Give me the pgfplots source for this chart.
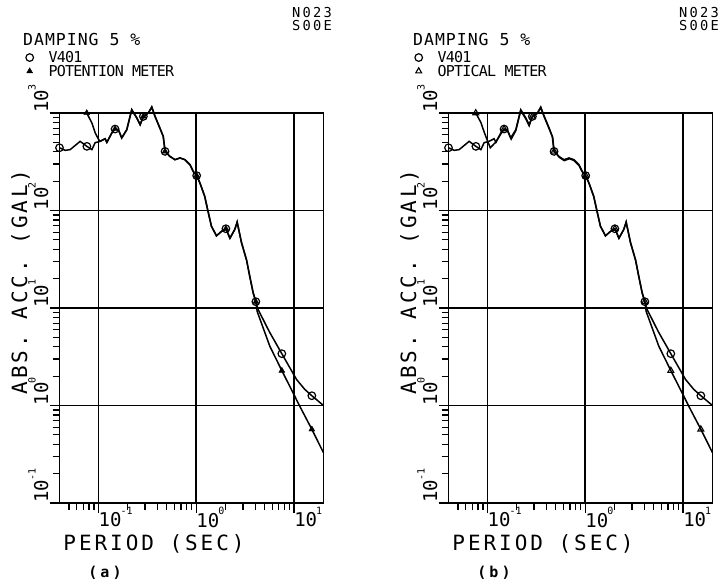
\documentclass[border=0pt]{standalone}
\usepackage{fontspec}
\usepackage{pgfplots}
\usepackage{pgfplotstable}
\pgfplotsset{compat=1.18}

\newfontfamily\plotfont{DejaVu Sans Mono}
\newfontfamily\plotwide[LetterSpace=14]{DejaVu Sans Mono}
\newfontfamily\plotmid[LetterSpace=6]{DejaVu Sans Mono}
\newfontfamily\plotnarrow[LetterSpace=-5]{DejaVu Sans Mono}
\newfontfamily\plotid[LetterSpace=16]{DejaVu Sans Mono}
\newfontfamily\plotcap[LetterSpace=20]{DejaVu Sans Mono}
% small raised exponent, like the plotter's 10^n labels
\newcommand\ex[1]{\kern-1pt\raisebox{12.5pt}{\fontsize{10}{10}\selectfont#1}}

% V401 spectrum (same record in both panels)
\pgfplotstableread{
x y
0.040 440
0.0457 414
0.0514 421
0.065 512
0.0762 455
0.0857 421
0.0925 496
0.104 512
0.117 545
0.122 500
0.137 624
0.148 685
0.160 674
0.173 555
0.195 674
0.219 1081
0.247 889
0.267 759
0.288 923
0.324 1000
0.351 1152
0.379 923
0.425 701
0.460 575
0.480 404
0.538 359
0.606 332
0.682 346
0.767 332
0.863 295
0.931 252
1.01 228
1.09 192
1.22 140
1.32 98
1.43 69
1.61 55
1.81 61
2.01 65
2.21 52
2.48 64
2.62 76
2.90 47
3.27 31
3.53 21
3.82 14.3
4.07 11.6
4.29 9.66
5.58 5.73
7.50 3.40
10.6 1.85
12.9 1.46
15.2 1.26
20.0 1.00
}\vfour

\pgfplotstableread{
x y
0.040 440
0.0762 455
0.148 685
0.288 923
0.480 404
1.01 228
2.01 65
4.07 11.6
7.50 3.40
15.2 1.26
}\vfourmk

% potention meter, panel (a)
\pgfplotstableread{
x y
0.076 1000
0.0857 791
0.0925 628
0.100 540
0.104 512
0.117 545
0.122 500
0.137 624
0.148 685
0.160 674
0.173 555
0.195 674
0.219 1081
0.247 889
0.267 759
0.288 923
0.324 1000
0.351 1152
0.379 923
0.425 701
0.460 575
0.480 404
0.538 359
0.606 332
0.682 346
0.767 332
0.863 295
0.931 252
1.01 228
1.09 192
1.22 140
1.32 98
1.43 69
1.61 55
1.81 61
2.01 65
2.21 52
2.48 64
2.62 76
2.90 47
3.27 31
3.53 21
3.82 14.3
4.07 11.6
4.20 9.2
5.65 4.06
7.50 2.28
9.77 1.35
11.4 0.99
15.2 0.57
20.0 0.328
}\pot

% optical meter, panel (b)
\pgfplotstableread{
x y
0.076 1000
0.0857 800
0.0925 640
0.100 520
0.107 440
0.114 470
0.122 505
0.137 610
0.148 685
0.160 660
0.175 540
0.195 660
0.219 1060
0.247 870
0.267 740
0.288 923
0.324 990
0.351 1130
0.385 900
0.430 690
0.465 560
0.480 404
0.500 390
0.545 350
0.610 325
0.690 340
0.770 325
0.863 290
0.931 250
1.01 228
1.09 192
1.22 140
1.32 98
1.43 69
1.61 55
1.81 61
2.01 65
2.21 52
2.48 64
2.62 76
2.90 47
3.27 31
3.53 21
3.82 14.3
4.07 11.6
4.20 9.2
5.65 4.06
7.50 2.28
9.77 1.35
11.4 0.99
15.2 0.57
20.0 0.328
}\opt

\pgfplotstableread{
x y
0.076 1000
0.148 685
0.288 923
0.480 404
1.01 228
2.01 65
4.07 11.6
7.50 2.28
15.2 0.57
}\trimk

\begin{document}
\begin{tikzpicture}
\path[use as bounding box] (0pt,0pt) rectangle (719pt,581pt);

% panel (a)
\begin{axis}[
    at={(59.5pt,78pt)}, anchor=south west,
    xmode=log, ymode=log,
    scale only axis, width=264pt, height=390pt,
    xmin=0.04, xmax=20, ymin=0.1, ymax=1000,
    clip=false,
    axis line style={line width=1.6pt},
    xmajorgrids, ymajorgrids,
    major grid style={line width=1.7pt, black},
    xtick={0.1,1,10},
    xticklabels={10\ex{-1},10\ex{0},10\ex{1}},
    ytick={0.1,1,10,100,1000},
    yticklabels={10\ex{-1},10\ex{0},10\ex{1},10\ex{2},10\ex{3}},
    minor xtick={0.05,0.06,0.07,0.08,0.09,0.2,0.3,0.4,0.5,0.6,0.7,0.8,0.9,2,3,4,5,6,7,8,9},
    minor ytick={0.2,0.3,0.4,0.5,0.6,0.7,0.8,0.9,2,3,4,5,6,7,8,9,20,30,40,50,60,70,80,90,200,300,400,500,600,700,800,900},
    xtick pos=bottom, ytick pos=left,
    tick align=outside,
    major tick length=10pt, minor tick length=7pt,
    tick style={black, line width=1.2pt},
    tick label style={font=\plotfont\fontsize{19}{19}\selectfont, inner sep=0pt},
    xticklabel style={anchor=north west, yshift=6pt},
    yticklabel style={xshift=-1pt, rotate=90, anchor=south west},
    label style={font=\plotwide\fontsize{21}{21}\selectfont},
    xlabel={PERIOD (SEC)},
    ylabel={ABS. ACC. (GAL)},
    xlabel style={at={(axis description cs:0.358,-0.105)}, anchor=center},
    ylabel style={at={(axis description cs:-0.148,0.567)}, anchor=center},
    legend style={at={(axis description cs:-0.128,1.164)}, anchor=north west,
      draw=none, fill=none, inner sep=0pt, row sep=-3pt,
      font=\plotnarrow\fontsize{15}{15}\selectfont,
      /tikz/every odd column/.append style={column sep=13pt}},
    legend cell align=left,
]
\addplot[black, line width=1.5pt, mark=none, forget plot] table {\vfour};
\addplot[black, line width=1.5pt, mark=none, forget plot] table {\pot};
\addplot[only marks, mark=o, mark size=3.8pt, line width=1.2pt, black] table {\vfourmk};
\addlegendentry{V401}
\addplot[only marks, mark=triangle*, mark size=3.4pt, black] table {\trimk};
\addlegendentry{POTENTION METER}
\end{axis}

% panel (b)
\begin{axis}[
    at={(448.5pt,78pt)}, anchor=south west,
    xmode=log, ymode=log,
    scale only axis, width=264pt, height=390pt,
    xmin=0.04, xmax=20, ymin=0.1, ymax=1000,
    clip=false,
    axis line style={line width=1.6pt},
    xmajorgrids, ymajorgrids,
    major grid style={line width=1.7pt, black},
    xtick={0.1,1,10},
    xticklabels={10\ex{-1},10\ex{0},10\ex{1}},
    ytick={0.1,1,10,100,1000},
    yticklabels={10\ex{-1},10\ex{0},10\ex{1},10\ex{2},10\ex{3}},
    minor xtick={0.05,0.06,0.07,0.08,0.09,0.2,0.3,0.4,0.5,0.6,0.7,0.8,0.9,2,3,4,5,6,7,8,9},
    minor ytick={0.2,0.3,0.4,0.5,0.6,0.7,0.8,0.9,2,3,4,5,6,7,8,9,20,30,40,50,60,70,80,90,200,300,400,500,600,700,800,900},
    xtick pos=bottom, ytick pos=left,
    tick align=outside,
    major tick length=10pt, minor tick length=7pt,
    tick style={black, line width=1.2pt},
    tick label style={font=\plotfont\fontsize{19}{19}\selectfont, inner sep=0pt},
    xticklabel style={anchor=north west, yshift=6pt},
    yticklabel style={xshift=-1pt, rotate=90, anchor=south west},
    label style={font=\plotwide\fontsize{21}{21}\selectfont},
    xlabel={PERIOD (SEC)},
    ylabel={ABS. ACC. (GAL)},
    xlabel style={at={(axis description cs:0.358,-0.105)}, anchor=center},
    ylabel style={at={(axis description cs:-0.148,0.567)}, anchor=center},
    legend style={at={(axis description cs:-0.128,1.164)}, anchor=north west,
      draw=none, fill=none, inner sep=0pt, row sep=-3pt,
      font=\plotnarrow\fontsize{15}{15}\selectfont,
      /tikz/every odd column/.append style={column sep=13pt}},
    legend cell align=left,
]
\addplot[black, line width=1.5pt, mark=none, forget plot] table {\vfour};
\addplot[black, line width=1.5pt, mark=none, forget plot] table {\opt};
\addplot[only marks, mark=o, mark size=3.8pt, line width=1.2pt, black] table {\vfourmk};
\addlegendentry{V401}
\addplot[only marks, mark=triangle, mark size=3.4pt, line width=1.1pt, black] table {\trimk};
\addlegendentry{OPTICAL METER}
\end{axis}

\node[anchor=west, inner sep=0pt, font=\plotmid\fontsize{16.5}{16.5}\selectfont] at (23pt,542pt) {DAMPING 5 \%};
\node[anchor=west, inner sep=0pt, font=\plotmid\fontsize{16.5}{16.5}\selectfont] at (413pt,542pt) {DAMPING 5 \%};
\node[anchor=east, inner sep=0pt, font=\plotid\fontsize{13.7}{13.7}\selectfont] at (332pt,568pt) {N023};
\node[anchor=east, inner sep=0pt, font=\plotid\fontsize{13.7}{13.7}\selectfont] at (332pt,555pt) {S00E};
\node[anchor=east, inner sep=0pt, font=\plotid\fontsize{13.7}{13.7}\selectfont] at (719pt,568pt) {N023};
\node[anchor=east, inner sep=0pt, font=\plotid\fontsize{13.7}{13.7}\selectfont] at (719pt,555pt) {S00E};
\node[font=\plotcap\bfseries\fontsize{15}{15}\selectfont] at (105pt,8.5pt) {(a)};
\node[font=\plotcap\bfseries\fontsize{15}{15}\selectfont] at (494pt,8.5pt) {(b)};
\end{tikzpicture}
\end{document}
